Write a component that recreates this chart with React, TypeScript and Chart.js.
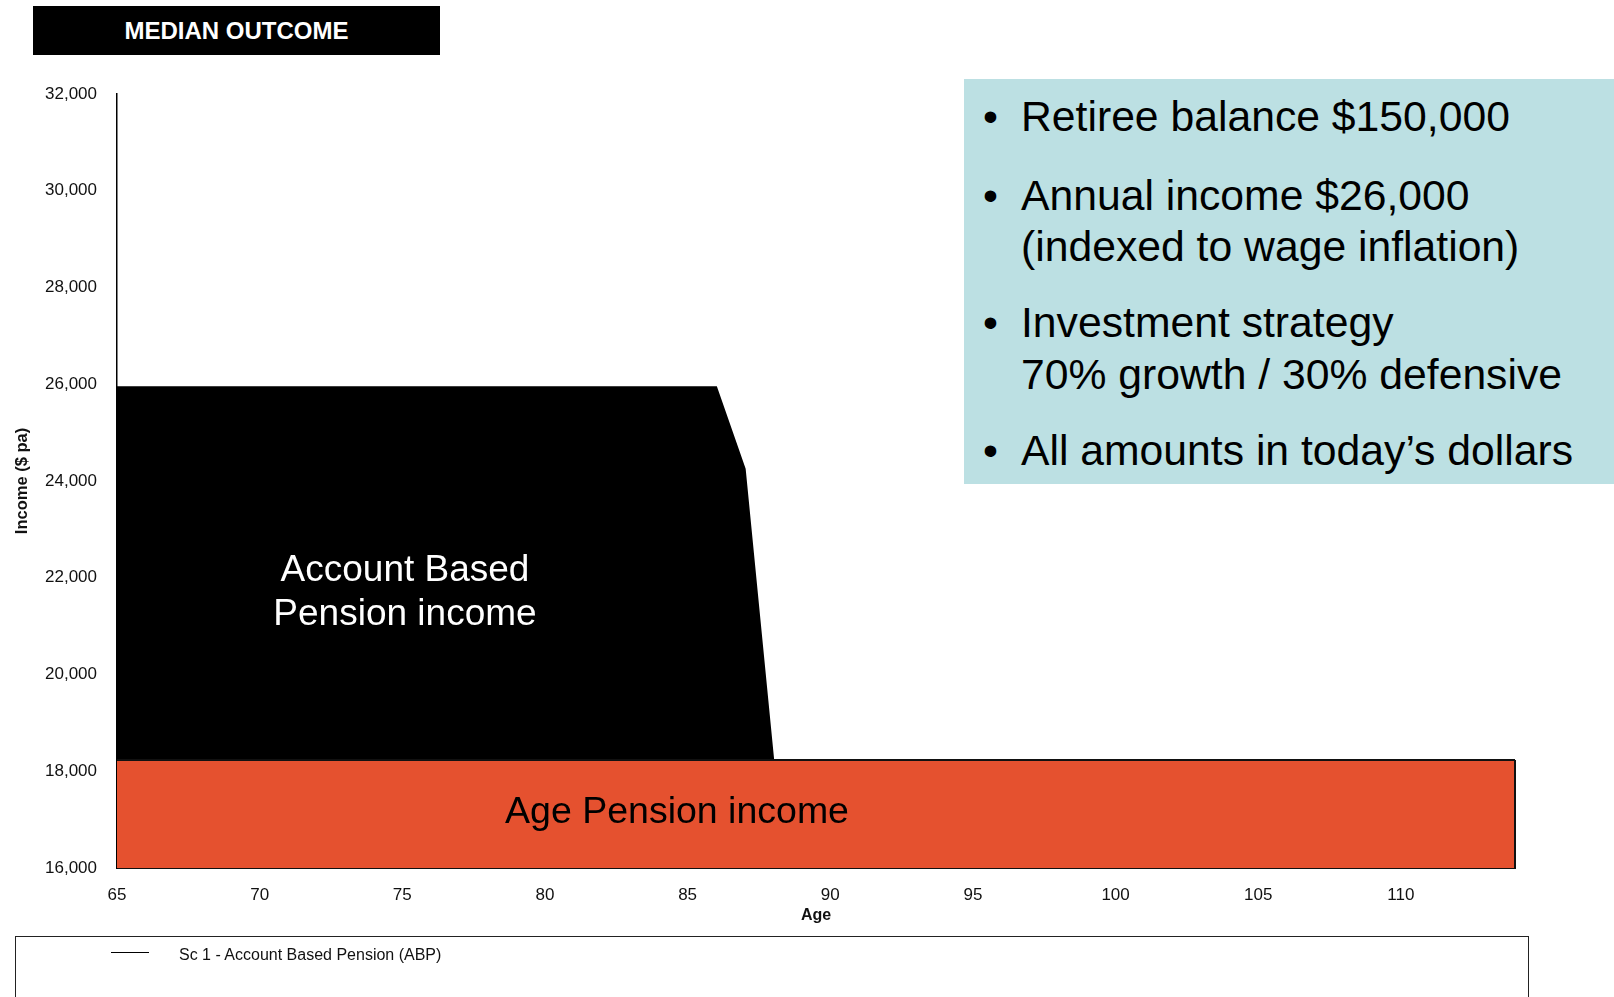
import React, { useEffect, useRef } from 'react';
import { Chart, registerables } from 'chart.js';

Chart.register(...registerables);

// ---- data ----
const ages = [
  65, 66, 67, 68, 69, 70, 71, 72, 73, 74,
  75, 76, 77, 78, 79, 80, 81, 82, 83, 84,
  85, 86, 87, 88, 89, 90, 91, 92, 93, 94,
  95, 96, 97, 98, 99, 100, 101, 102, 103, 104,
  105, 106, 107, 108, 109, 110, 111, 112, 113, 114,
];

const agePensionIncome = [
  18230, 18230, 18230, 18230, 18230, 18230, 18230, 18230, 18230, 18230,
  18230, 18230, 18230, 18230, 18230, 18230, 18230, 18230, 18230, 18230,
  18230, 18230, 18230, 18230, 18230, 18230, 18230, 18230, 18230, 18230,
  18230, 18230, 18230, 18230, 18230, 18230, 18230, 18230, 18230, 18230,
  18230, 18230, 18230, 18230, 18230, 18230, 18230, 18230, 18230, 18230,
];

const abpIncome = [
  7710, 7710, 7710, 7710, 7710, 7710, 7710, 7710, 7710, 7710,
  7710, 7710, 7710, 7710, 7710, 7710, 7710, 7710, 7710, 7710,
  7710, 7710, 6020, 0, 0, 0, 0, 0, 0, 0,
  0, 0, 0, 0, 0, 0, 0, 0, 0, 0,
  0, 0, 0, 0, 0, 0, 0, 0, 0, 0,
];

const xTickLabels = [65, 70, 75, 80, 85, 90, 95, 100, 105, 110];
const yTickValues = [16000, 18000, 20000, 22000, 24000, 26000, 28000, 30000, 32000];

const bulletLines = [
  { text: 'Retiree balance $150,000', bullet: true },
  { text: 'Annual income $26,000', bullet: true },
  { text: '(indexed to wage inflation)', bullet: false },
  { text: 'Investment strategy', bullet: true },
  { text: '70% growth / 30% defensive', bullet: false },
  { text: 'All amounts in today\u2019s dollars', bullet: true },
];
const bulletCenters = [116, 195, 246, 322, 374, 450];

const FONT = '"Liberation Sans", Arial, Helvetica, sans-serif';

const edgePlugin = {
  id: 'orangeEdge',
  afterDatasetsDraw(chart: any) {
    const meta = chart.getDatasetMeta(0);
    const pts = meta.data;
    if (!pts || !pts.length) return;
    const last = pts[pts.length - 1];
    const ctx = chart.ctx;
    ctx.save();
    ctx.strokeStyle = '#111';
    ctx.lineWidth = 2;
    ctx.beginPath();
    ctx.moveTo(last.x, last.y);
    ctx.lineTo(last.x, chart.chartArea.bottom);
    ctx.stroke();
    ctx.restore();
  },
};

export default function App() {
  const canvasRef = useRef<HTMLCanvasElement | null>(null);

  useEffect(() => {
    if (!canvasRef.current) return;
    Chart.defaults.font.family = FONT;
    const chart = new Chart(canvasRef.current, {
      type: 'line',
      data: {
        labels: ages,
        datasets: [
          {
            label: 'Age Pension',
            data: agePensionIncome,
            backgroundColor: '#E5512F',
            borderColor: '#111',
            borderWidth: 2,
            fill: 'origin',
            pointRadius: 0,
            tension: 0,
          },
          {
            label: 'Sc 1 - Account Based Pension (ABP)',
            data: abpIncome,
            backgroundColor: '#000',
            borderColor: '#000',
            borderWidth: 2,
            fill: '-1',
            pointRadius: 0,
            tension: 0,
          },
        ],
      },
      options: {
        responsive: false,
        animation: false,
        layout: { padding: { left: 0, top: 94, right: 99, bottom: 59 } },
        plugins: {
          legend: { display: false },
          tooltip: { enabled: false },
          title: { display: false },
        },
        scales: {
          x: {
            type: 'category',
            grid: { display: false, drawTicks: false },
            border: { display: true, color: '#111', width: 2 },
            ticks: {
              autoSkip: false,
              maxRotation: 0,
              minRotation: 0,
              padding: 17,
              color: '#111',
              font: { size: 17, family: FONT },
              callback: (_v: any, idx: number) =>
                xTickLabels.includes(ages[idx]) ? String(ages[idx]) : '',
            },
            title: {
              display: true,
              text: 'Age',
              color: '#111',
              font: { size: 16, weight: 'bold', family: FONT },
              padding: { top: 0, bottom: 13 },
            },
            afterFit: (scale: any) => {
              scale.height = 70;
            },
          },
          y: {
            stacked: true,
            min: 16000,
            max: 32000,
            grid: { display: false, drawTicks: false },
            border: { display: true, color: '#000', width: 1.5 },
            afterBuildTicks: (scale: any) => {
              scale.ticks = yTickValues.map((v) => ({ value: v }));
            },
            ticks: {
              padding: 20,
              color: '#111',
              font: { size: 17, family: FONT },
              callback: (v: any) => Number(v).toLocaleString('en-US'),
            },
            title: {
              display: true,
              text: 'Income ($ pa)',
              color: '#111',
              font: { size: 16.5, weight: 'bold', family: FONT },
              padding: { top: 13, bottom: 0 },
            },
            afterFit: (scale: any) => {
              scale.width = 117;
            },
          },
        },
      },
      plugins: [edgePlugin],
    } as any);
    return () => chart.destroy();
  }, []);

  return (
    <div
      style={{
        position: 'absolute',
        left: 0,
        top: 0,
        width: 1614,
        height: 997,
        background: '#fff',
        overflow: 'hidden',
        fontFamily: FONT,
      }}
    >
      <canvas
        ref={canvasRef}
        width={1614}
        height={997}
        style={{ position: 'absolute', left: 0, top: 0, width: 1614, height: 997 }}
      />
      {/* title box */}
      <div
        style={{
          position: 'absolute',
          left: 33,
          top: 6,
          width: 407,
          height: 49,
          background: '#000',
          color: '#fff',
          fontWeight: 'bold',
          fontSize: 24,
          lineHeight: '49px',
          textAlign: 'center',
          boxSizing: 'border-box',
        }}
      >
        MEDIAN OUTCOME
      </div>
      {/* info box */}
      <div
        style={{
          position: 'absolute',
          left: 964,
          top: 79,
          width: 650,
          height: 405,
          background: '#BCE0E3',
        }}
      />
      {bulletLines.map((l, i) => (
        <React.Fragment key={i}>
          {l.bullet && (
            <div
              style={{
                position: 'absolute',
                left: 983,
                top: bulletCenters[i] - 25.5,
                fontSize: 42.7,
                lineHeight: '51px',
                color: '#000',
              }}
            >
              {'\u2022'}
            </div>
          )}
          <div
            style={{
              position: 'absolute',
              left: 1021,
              top: bulletCenters[i] - 25.5,
              fontSize: 42.7,
              lineHeight: '51px',
              color: '#000',
              whiteSpace: 'nowrap',
            }}
          >
            {l.text}
          </div>
        </React.Fragment>
      ))}
      {/* area annotations */}
      <div
        style={{
          position: 'absolute',
          left: 205,
          width: 400,
          top: 569 - 22,
          fontSize: 37,
          lineHeight: '44px',
          color: '#fff',
          textAlign: 'center',
          whiteSpace: 'nowrap',
        }}
      >
        Account Based
      </div>
      <div
        style={{
          position: 'absolute',
          left: 205,
          width: 400,
          top: 613 - 22,
          fontSize: 37,
          lineHeight: '44px',
          color: '#fff',
          textAlign: 'center',
          whiteSpace: 'nowrap',
        }}
      >
        Pension income
      </div>
      <div
        style={{
          position: 'absolute',
          left: 427,
          width: 500,
          top: 810 - 22,
          fontSize: 37.5,
          lineHeight: '44px',
          color: '#000',
          textAlign: 'center',
          whiteSpace: 'nowrap',
        }}
      >
        Age Pension income
      </div>
      {/* legend box */}
      <div
        style={{
          position: 'absolute',
          left: 15,
          top: 936,
          width: 1514,
          height: 90,
          border: '1.5px solid #222',
          boxSizing: 'border-box',
        }}
      />
      <div
        style={{
          position: 'absolute',
          left: 111,
          top: 952,
          width: 38,
          height: 0,
          borderTop: '1.5px solid #000',
        }}
      />
      <div
        style={{
          position: 'absolute',
          left: 179,
          top: 955 - 10,
          fontSize: 16,
          lineHeight: '20px',
          color: '#111',
          whiteSpace: 'nowrap',
        }}
      >
        Sc 1 - Account Based Pension (ABP)
      </div>
    </div>
  );
}
